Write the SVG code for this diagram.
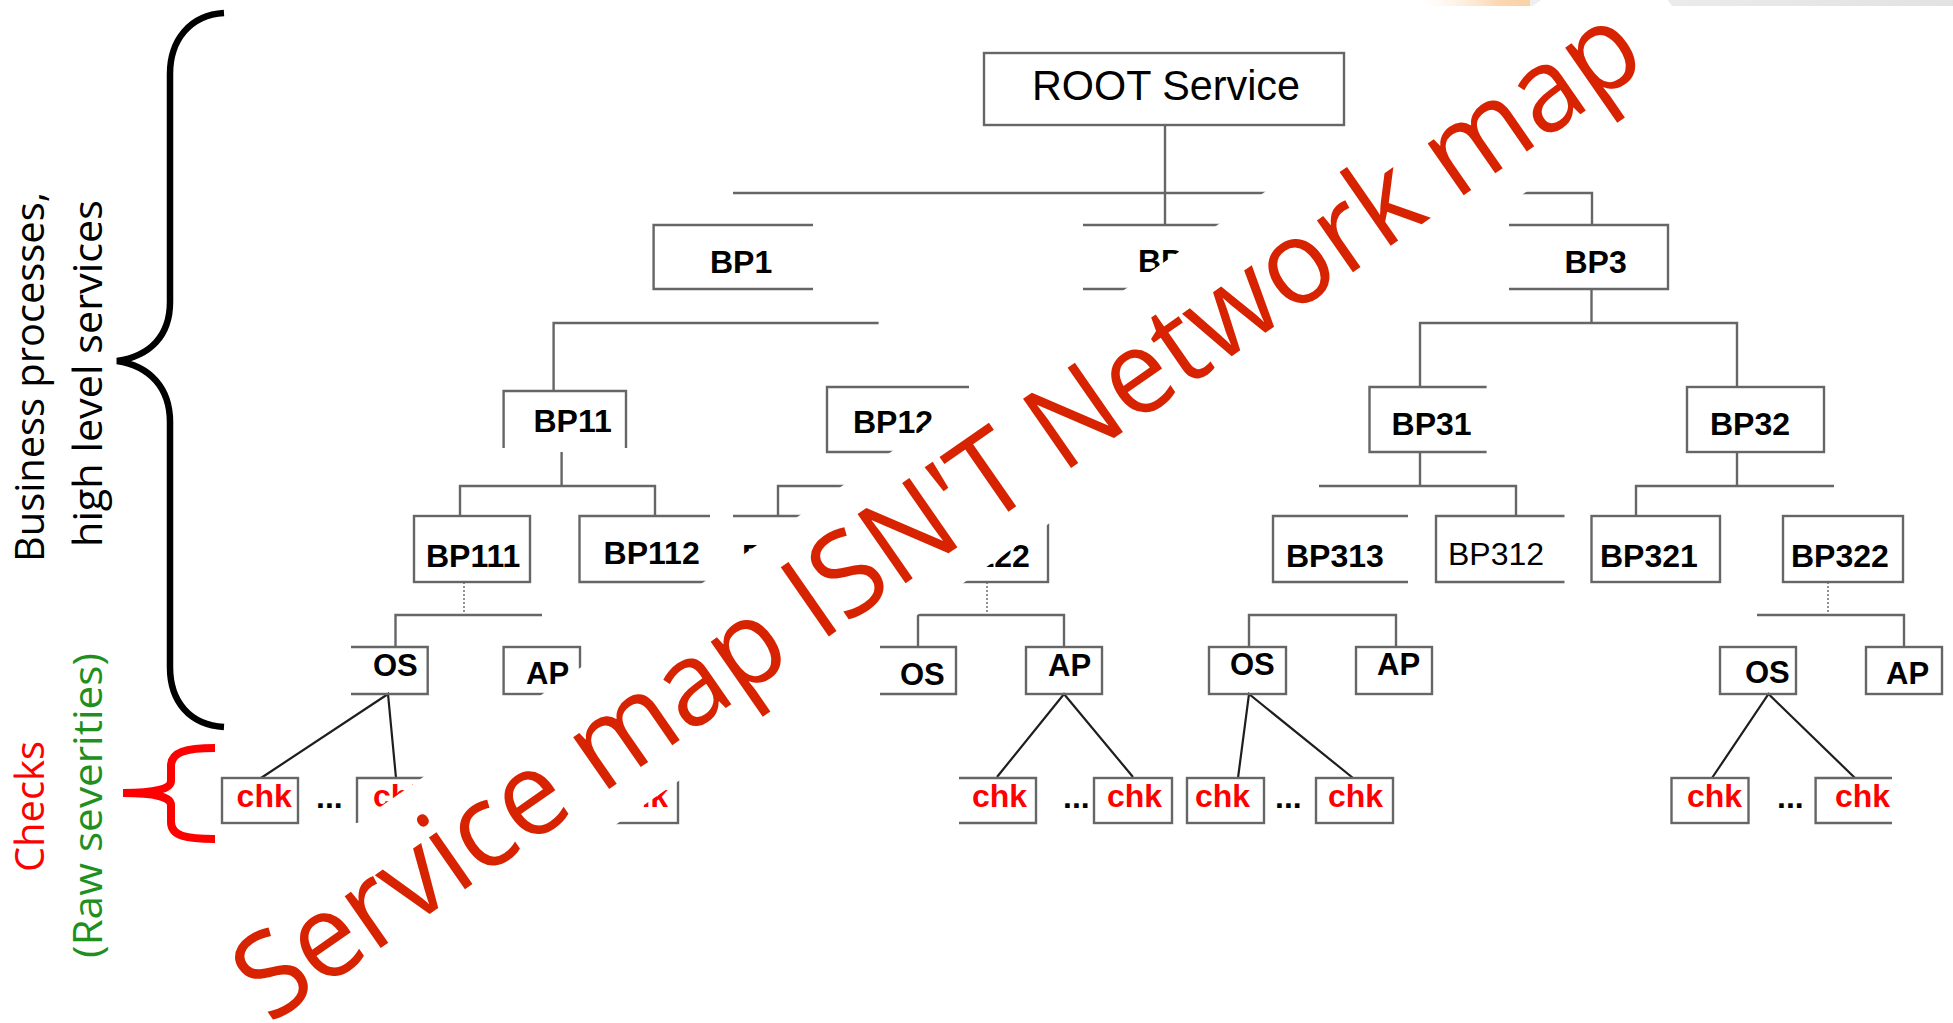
<svg xmlns="http://www.w3.org/2000/svg" width="1953" height="1023" viewBox="0 0 1953 1023">
  <defs>
    <linearGradient id="hdrOrange" x1="0" y1="0" x2="1" y2="0">
      <stop offset="0" stop-color="#fde8d2" stop-opacity="0"/>
      <stop offset="0.6" stop-color="#fbd6b0"/>
      <stop offset="1" stop-color="#f9cfa3"/>
    </linearGradient>
    <linearGradient id="hdrGray" x1="0" y1="0" x2="1" y2="0">
      <stop offset="0" stop-color="#efefef"/>
      <stop offset="1" stop-color="#e2e2e2"/>
    </linearGradient>
  </defs>
  <style>
    .e{fill:none;stroke:#666;stroke-width:2.4}
    .d{fill:none;stroke:#777;stroke-width:1.6;stroke-dasharray:2 2}
    .k{fill:none;stroke:#1e1e1e;stroke-width:2.2}
    .t{font-family:"Liberation Sans",Arial,sans-serif;font-weight:bold;font-size:32px;fill:#000}
    .s{font-size:31px}
    .reg{font-weight:normal}
    .c{fill:#ff0000}
    .side{font-family:"Open Sans","Noto Sans",sans-serif;font-size:40px}
    .wm{font-family:"Open Sans","Noto Sans",sans-serif;font-size:118px}
  </style>

  <rect width="1953" height="1023" fill="#fff"/>

  <!-- slide header remnants along the top edge -->
  <rect x="1425" y="0" width="125" height="6" fill="url(#hdrOrange)"/>
  <rect x="1530" y="0" width="423" height="6" fill="url(#hdrGray)"/>

  <!-- side annotations -->
  <g id="side-labels">
    <path d="M224,13 C190,15 170,40 170,74 L170,302 C170,336 150,356 117,361 C150,366 170,388 170,422 L170,667 C170,702 190,725 224,727" fill="none" stroke="#000" stroke-width="6.5"/>
    <path d="M215,748 C186,748 171,752 171,766 L171,781 Q171,793 123,793 Q171,793 171,805 L171,822 C171,836 186,839 215,839" fill="none" stroke="#ff0000" stroke-width="8"/>
    <text class="side" fill="#000" transform="translate(44,562) rotate(-90)" textLength="370" lengthAdjust="spacingAndGlyphs">Business processes,</text>
    <text class="side" fill="#000" transform="translate(102,547) rotate(-90)" textLength="347" lengthAdjust="spacingAndGlyphs">high level services</text>
    <text class="side" fill="#ff0000" transform="translate(44,872) rotate(-90)" textLength="131" lengthAdjust="spacingAndGlyphs">Checks</text>
    <text class="side" fill="#1f8f1f" transform="translate(102,958) rotate(-90)" textLength="305" lengthAdjust="spacingAndGlyphs">(Raw severities)</text>
  </g>

  <!-- connectors -->
  <g id="connectors">
    <path class="e" d="M1165,125 V225"/>
    <path class="e" d="M733,193 H1592 V225"/>
    <path class="e" d="M553.6,391 V323 H878.6"/>
    <path class="e" d="M1591.5,289 V323"/>
    <path class="e" d="M1420,387 V323 H1737 V387"/>
    <path class="e" d="M561.6,452 V486"/>
    <path class="e" d="M460,516 V486 H655 V516"/>
    <path class="e" d="M778,516 V486 H989"/>
    <path class="e" d="M1420,452 V486"/>
    <path class="e" d="M1319,486 H1516 V516"/>
    <path class="e" d="M1737,452 V486"/>
    <path class="e" d="M1636,516 V486 H1834"/>
    <path class="d" d="M464,582 V612"/>
    <path class="e" d="M395.5,647 V615 H542"/>
    <path class="d" d="M987,582 V612"/>
    <path class="e" d="M918,647 V615 H1064 V647"/>
    <path class="e" d="M1249,647 V615 H1396 V647"/>
    <path class="d" d="M1828,582 V612"/>
    <path class="e" d="M1757,615 H1904 V647"/>
    <path class="k" d="M261,778 L388,694 L396,778"/>
    <path class="k" d="M997,777 L1064,694 L1133,777"/>
    <path class="k" d="M1238,778 L1249,694 L1353,778"/>
    <path class="k" d="M1712,778 L1768.5,694 L1855,778"/>
  </g>

  <!-- level 0 -->
  <g id="root">
    <rect class="e" x="984" y="53" width="360" height="72"/>
    <text class="t reg" x="1032" y="100" style="font-size:42px" textLength="268" lengthAdjust="spacingAndGlyphs">ROOT Service</text>
  </g>

  <!-- level 1 -->
  <g id="bp1"><path class="e" d="M813,225 H653.6 V289 H813"/><text class="t" x="710" y="273">BP1</text></g>
  <g id="bp2"><path class="e" d="M1083,225 H1245 V289 H1083"/><text class="t" x="1138" y="272">BP2</text></g>
  <g id="bp3"><path class="e" d="M1509,225 H1668 V289 H1509"/><text class="t" x="1564.5" y="273">BP3</text></g>

  <!-- level 2 -->
  <g id="bp11"><path class="e" d="M503.6,448 V391 H626 V448"/><text class="t" x="533.5" y="432">BP11</text></g>
  <g id="bp12"><path class="e" d="M969,387 H827 V452 H969"/><text class="t" x="853" y="433">BP12</text></g>
  <g id="bp31"><path class="e" d="M1486.6,387 H1369.5 V452 H1486.6"/><text class="t" x="1391.6" y="435">BP31</text></g>
  <g id="bp32"><rect class="e" x="1687" y="387" width="137" height="65"/><text class="t" x="1710" y="435">BP32</text></g>

  <!-- level 3 -->
  <g id="bp111"><rect class="e" x="414" y="516" width="116" height="66"/><text class="t" x="426" y="567">BP111</text></g>
  <g id="bp112"><path class="e" d="M710,516 H579.5 V582 H710"/><text class="t" x="603.6" y="564">BP112</text></g>
  <g id="bp121"><path class="e" d="M733,516 H850 V582 H733"/><text class="t" x="742" y="567">BP121</text></g>
  <g id="bp122"><rect class="e" x="920" y="516" width="128" height="66"/><text class="t" x="932" y="567">BP122</text></g>
  <g id="bp313"><path class="e" d="M1408,516 H1273 V582 H1408"/><text class="t" x="1286" y="567">BP313</text></g>
  <g id="bp312"><path class="e" d="M1564.5,516 H1436 V582 H1564.5"/><text class="t reg" x="1448" y="565">BP312</text></g>
  <g id="bp321"><rect class="e" x="1591.5" y="516" width="128.5" height="66"/><text class="t" x="1600" y="567">BP321</text></g>
  <g id="bp322"><rect class="e" x="1783" y="516" width="120" height="66"/><text class="t" x="1791" y="567">BP322</text></g>

  <!-- level 4: OS / AP -->
  <g id="bp111-os"><path class="e" d="M351,647 H427.7 V694 H351"/><text class="t s" x="373" y="676">OS</text></g>
  <g id="bp111-ap"><rect class="e" x="503.6" y="647" width="76.4" height="47"/><text class="t s" x="526" y="684">AP</text></g>
  <g id="bp122-os"><path class="e" d="M880,647 H956 V694 H880"/><text class="t s" x="900" y="685">OS</text></g>
  <g id="bp122-ap"><rect class="e" x="1026" y="647" width="76" height="47"/><text class="t s" x="1048" y="676">AP</text></g>
  <g id="bp313-os"><rect class="e" x="1209" y="647" width="77" height="47"/><text class="t s" x="1230" y="675">OS</text></g>
  <g id="bp313-ap"><rect class="e" x="1356" y="647" width="76" height="47"/><text class="t s" x="1377" y="675">AP</text></g>
  <g id="bp322-os"><rect class="e" x="1720" y="647" width="76" height="47"/><text class="t s" x="1745" y="683">OS</text></g>
  <g id="bp322-ap"><rect class="e" x="1866" y="647" width="76" height="47"/><text class="t s" x="1886" y="684">AP</text></g>

  <!-- level 5: checks -->
  <g id="chk-a1"><rect class="e" x="222" y="778" width="76" height="45"/><text class="t c" x="236.6" y="807">chk</text></g>
  <g id="dots-a"><text class="t" x="316" y="808">...</text></g>
  <g id="chk-a2"><path class="e" d="M357,823 V778 H434 V823 H357"/><text class="t c" x="373" y="807">chk</text></g>
  <g id="chk-a3"><rect class="e" x="601" y="778" width="77" height="45"/><text class="t c" x="613" y="807">chk</text></g>
  <g id="chk-b1"><path class="e" d="M959,778 H1036 V823 H959"/><text class="t c" x="972" y="807">chk</text></g>
  <g id="dots-b"><text class="t" x="1063" y="808">...</text></g>
  <g id="chk-b2"><rect class="e" x="1094" y="778" width="78" height="45"/><text class="t c" x="1107" y="807">chk</text></g>
  <g id="chk-c1"><rect class="e" x="1187" y="778" width="77" height="45"/><text class="t c" x="1195" y="807">chk</text></g>
  <g id="dots-c"><text class="t" x="1275" y="808">...</text></g>
  <g id="chk-c2"><rect class="e" x="1316" y="778" width="77" height="45"/><text class="t c" x="1328" y="807">chk</text></g>
  <g id="chk-d1"><rect class="e" x="1671.5" y="778" width="77" height="45"/><text class="t c" x="1687" y="807">chk</text></g>
  <g id="dots-d"><text class="t" x="1777" y="808">...</text></g>
  <g id="chk-d2"><path class="e" d="M1892,778 H1815.6 V823 H1892"/><text class="t c" x="1835" y="807">chk</text></g>

  <!-- diagonal banner: white-filled box with red caption on top -->
  <g id="banner" transform="translate(269.7,1025) rotate(-34.8)">
    <rect x="-40" y="-116" width="1773" height="149" fill="#fff"/>
    <text class="wm" x="0" y="0" textLength="1681" lengthAdjust="spacingAndGlyphs" fill="#d82300">Service map ISN'T Network map</text>
  </g>
</svg>
